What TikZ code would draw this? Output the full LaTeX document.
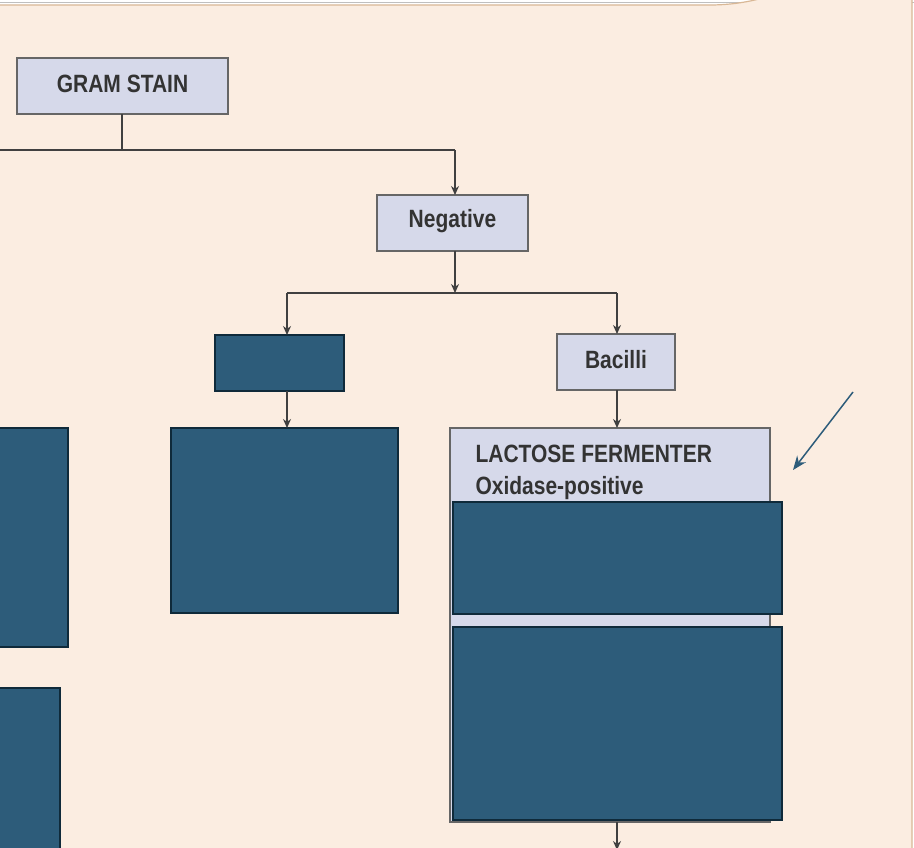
\documentclass[tikz,border=0pt]{standalone}
\usepackage{fontspec}
\setmainfont{Liberation Sans}[FakeStretch=0.84]
\usetikzlibrary{arrows.meta}
\definecolor{peach}{HTML}{FBEDE1}
\definecolor{tan}{HTML}{D9B896}
\definecolor{lav}{HTML}{D6D9EA}
\definecolor{dark}{HTML}{2D5C7A}
\definecolor{darkb}{HTML}{0F2A3A}
\begin{document}
\begin{tikzpicture}[x=1pt,y=-1pt,
  lbox/.style={draw=gray!80!black,fill=lav,line width=1.2pt},
  dbox/.style={draw=darkb,fill=dark,line width=2pt},
  conn/.style={line width=1.3pt,draw=black!75},
  arr/.style={conn,-{Stealth[length=9pt,width=8pt]}},
  txt/.style={font=\bfseries\fontsize{25}{27}\selectfont,text=black!80}]
\useasboundingbox (0,0) rectangle (914,848);
\fill[white] (0,0) rectangle (914,848);
\draw[gray!50,line width=1pt] (0,3) -- (914,3);
\filldraw[fill=peach,draw=tan,line width=1.2pt] (-2,5) -- (710,5) arc[start angle=90,end angle=0,radius=202] -- (912,850) -- (-2,850) -- cycle;
% nodes
\draw[lbox] (17,58) rectangle (228,114);
\node[txt] (gram) at (122.5,84) {GRAM STAIN};
\draw[lbox] (377,195) rectangle (528,251);
\node[txt] (neg) at (452.5,221) {Negative};
\draw[lbox] (557,334) rectangle (675,390);
\node[txt] (bac) at (616,360) {Bacilli};
\draw[lbox] (450,428) rectangle (770,822);
\node[txt,anchor=west] (lac) at (472,454) {LACTOSE FERMENTER};
\node[txt,anchor=west] (oxi) at (472,488) {Oxidase-positive};
\draw[dbox] (215,335) rectangle (344,391);
\draw[dbox] (171,428) rectangle (398,613);
\draw[dbox] (453,502) rectangle (782,614);
\draw[dbox] (453,627) rectangle (782,820);
\draw[dbox] (-5,428) rectangle (68,647);
\draw[dbox] (-5,688) rectangle (60,855);
% connectors
\coordinate (gb) at (122,114);
\coordinate (gj) at (122,150);
\coordinate (gl) at (-2,150);
\coordinate (gn) at (455,150);
\coordinate (nt) at (455,195);
\draw[conn] (gb) -- (gj);
\draw[conn] (gl) -- (gn);
\draw[arr] (gn) -- (nt);
\coordinate (nb) at (455,251);
\coordinate (nj) at (455,293);
\draw[arr] (nb) -- (nj);
\coordinate (l1) at (287,293);
\coordinate (r1) at (617,293);
\draw[conn] (l1) -- (r1);
\coordinate (dt) at (287,335);
\coordinate (bt) at (617,334);
\draw[arr] (l1) -- (dt);
\draw[arr] (r1) -- (bt);
\coordinate (db) at (287,391);
\coordinate (d2) at (287,428);
\draw[arr] (db) -- (d2);
\coordinate (bb) at (617,390);
\coordinate (lt) at (617,428);
\draw[arr] (bb) -- (lt);
\coordinate (lb) at (617,822);
\coordinate (le) at (617,850);
\draw[arr] (lb) -- (le);
\coordinate (pa) at (853,392);
\coordinate (pb) at (793,470);
\draw[dark,line width=1.5pt,-{Stealth[length=14pt,width=11pt]}] (pa) -- (pb);
\end{tikzpicture}
\end{document}
